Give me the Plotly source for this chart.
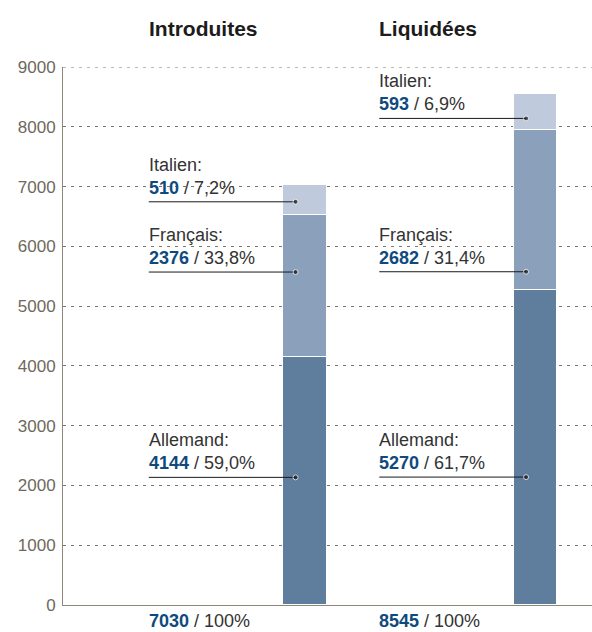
import plotly.graph_objects as go

# Cases by language of procedure
categories = ["Introduites", "Liquidées"]
languages = ["Allemand", "Français", "Italien"]
allemand = [4144, 5270]
francais = [2376, 2682]
italien = [510, 593]
allemand_pct = ["59,0%", "61,7%"]
francais_pct = ["33,8%", "31,4%"]
italien_pct = ["7,2%", "6,9%"]
totals = [7030, 8545]
y_ticks = [0, 1000, 2000, 3000, 4000, 5000, 6000, 7000, 8000, 9000]

# Height (in axis units) at which each label's leader line sits
label_y = {
    "Allemand": [2135, 2140],
    "Français": [5570, 5575],
    "Italien": [6745, 8140],
}

colors = {"Allemand": "#5f7d9d", "Français": "#8aa0bb", "Italien": "#bfcadd"}
values = {"Allemand": allemand, "Français": francais, "Italien": italien}
pcts = {"Allemand": allemand_pct, "Français": francais_pct, "Italien": italien_pct}

BLUE = "#0f4a7e"
TEXT = "#333333"
AXIS = "#8c8779"
GRID = "#7d7767"
FONT = "Liberation Sans, Arial, sans-serif"

xpos = list(range(len(categories)))
TEXT_DX = -0.678   # left edge of the label column, relative to bar centre
DOT_DX = -0.041    # leader-line end point inside the bar

fig = go.Figure()

for lang in languages:
    fig.add_bar(
        x=xpos, y=values[lang], width=0.19, name=lang,
        marker=dict(color=colors[lang], line=dict(color="white", width=1)),
        hoverinfo="skip",
    )

annotations = []
for j, cat in enumerate(categories):
    x_text = xpos[j] + TEXT_DX
    x_dot = xpos[j] + DOT_DX
    for lang in languages:
        ly = label_y[lang][j]
        fig.add_scatter(
            x=[x_text, x_dot], y=[ly, ly], mode="lines+markers",
            line=dict(color="#1a1a1a", width=1),
            marker=dict(size=[0, 5], color="#1a1a1a"),
            hoverinfo="skip",
        )
        annotations.append(dict(
            x=x_text, y=ly, xref="x", yref="y", yshift=37, xshift=-2,
            text=f"{lang}:", showarrow=False, xanchor="left", yanchor="middle",
            font=dict(size=18, color=TEXT, family=FONT),
        ))
        annotations.append(dict(
            x=x_text, y=ly, xref="x", yref="y", yshift=14, xshift=-2,
            text=f"<span style='color:{BLUE}'><b>{values[lang][j]}</b></span> / {pcts[lang][j]}",
            showarrow=False, xanchor="left", yanchor="middle",
            font=dict(size=18, color=TEXT, family=FONT),
        ))
    # column title
    annotations.append(dict(
        x=x_text, y=1, xref="x", yref="paper", yshift=39, xshift=-2,
        text=f"<b>{cat}</b>", showarrow=False, xanchor="left", yanchor="middle",
        font=dict(size=21, color="#1c1c1c", family=FONT),
    ))
    # total below the axis
    annotations.append(dict(
        x=x_text, y=0, xref="x", yref="paper", yshift=-16, xshift=-2,
        text=f"<span style='color:{BLUE}'><b>{totals[j]}</b></span> / 100%",
        showarrow=False, xanchor="left", yanchor="middle",
        font=dict(size=18, color=TEXT, family=FONT),
    ))

# top gridline at the upper end of the value axis
fig.add_shape(
    type="line", xref="paper", yref="y", x0=0, x1=1, y0=y_ticks[-1], y1=y_ticks[-1],
    line=dict(color=GRID, width=1, dash="3px,5px"), layer="below",
)

fig.update_layout(
    width=592, height=632,
    margin=dict(l=63, r=0, t=67, b=27),
    barmode="stack",
    bargap=0,
    showlegend=False,
    plot_bgcolor="white",
    paper_bgcolor="white",
    annotations=annotations,
    font=dict(family=FONT),
    xaxis=dict(
        range=[-1.05, 1.245], showgrid=False, zeroline=False,
        showticklabels=False, ticks="",
        showline=True, linecolor=AXIS, linewidth=1,
        fixedrange=True,
    ),
    yaxis=dict(
        range=[0, 9000], tickvals=y_ticks,
        ticktext=[str(v) for v in y_ticks],
        showgrid=True, gridcolor=GRID, gridwidth=1, griddash="3px,5px",
        zeroline=False, showline=True, linecolor=AXIS, linewidth=1,
        ticks="", ticklen=0, ticklabelstandoff=3,
        tickfont=dict(size=17, color="#6e695c", family=FONT),
        fixedrange=True,
    ),
)

fig.write_html("out.html")
